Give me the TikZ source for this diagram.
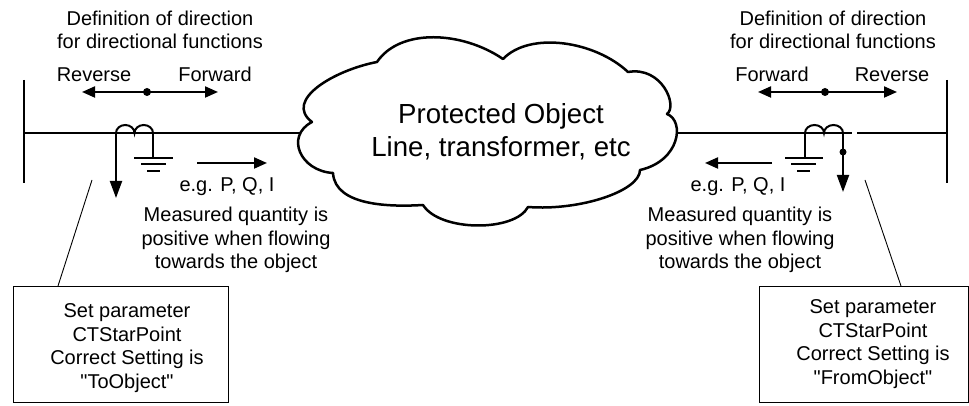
\documentclass[tikz,border=0pt]{standalone}
\usepackage{fontspec}
\setmainfont{Liberation Sans}[Ligatures=TeXOff]
\usetikzlibrary{arrows.meta}
\begin{document}
\begin{tikzpicture}[x=1pt,y=1pt,
  wire/.style={line width=2pt},
  busbar/.style={line width=2.5pt},
  leader/.style={line width=0.9pt},
  txt/.style={font=\fontsize{20}{23.5}\selectfont, inner sep=0pt, align=center},
  bigtxt/.style={font=\fontsize{27.6}{33}\selectfont, inner sep=0pt, align=center},
  flowarr/.style={wire,-{Triangle[length=13pt,width=11pt]}},
  dirarr/.style={wire,{Triangle[length=13pt,width=11pt]}-{Triangle[length=13pt,width=11pt]}},
  leadarr/.style={wire,-{Triangle[length=17pt,width=12pt]}},
  dotc/.style={circle, fill=black, inner sep=0pt, minimum size=8pt},
  smalldot/.style={circle, fill=black, inner sep=0pt, minimum size=7pt},
  setbox/.style={draw, line width=1pt, inner sep=0pt},
  cloudline/.style={line width=2.5pt, fill=white, line join=round}]
\useasboundingbox (0,0) rectangle (969,406);

% bus bars and line
\coordinate (lbt) at (24,326); \coordinate (lbb) at (24,223);
\coordinate (rbt) at (947,326); \coordinate (rbb) at (947,223);
\draw[busbar] (lbt) -- (lbb);
\draw[busbar] (rbt) -- (rbb);
\coordinate (lbj) at (24,273); \coordinate (lcl) at (305,273);
\coordinate (rcl) at (665,273); \coordinate (rg1) at (852,273);
\coordinate (rg2) at (857,273); \coordinate (rbj) at (947,273);
\draw[wire] (lbj) -- (lcl);
\draw[wire] (rcl) -- (rg1);
\draw[wire] (rg2) -- (rbj);

% cloud
\draw[cloudline] (312,284)
  .. controls (283,306) and (335,336) .. (377,344)
  .. controls (400,378) and (462,375) .. (503,347)
  .. controls (530,375) and (595,365) .. (628,334)
  .. controls (662,340) and (678,300) .. (667,292)
  .. controls (685,285) and (680,245) .. (640,236)
  .. controls (640,215) and (580,195) .. (528,199)
  .. controls (515,174) and (440,174) .. (423,201)
  .. controls (390,199) and (335,200) .. (333,233)
  .. controls (300,235) and (285,270) .. (312,284) -- cycle;
\node[bigtxt] (obj) at (501,274) {Protected Object\\Line, transformer, etc};

% left CT
\draw[wire] (116,273) arc[start angle=180,end angle=0,x radius=9.25,y radius=8]
                      arc[start angle=180,end angle=0,x radius=9.25,y radius=8];
\coordinate (lct1) at (116,273); \coordinate (ltip) at (116,208);
\draw[leadarr] (lct1) -- (ltip);
\coordinate (lct2) at (153,273); \coordinate (lgnd) at (153,248);
\draw[wire] (lct2) -- (lgnd);
\draw[wire] (134,248) -- (173,248);
\draw[wire] (141,242) -- (166,242);
\draw[wire] (147,235) -- (160,235);

% right CT
\draw[wire] (805,273) arc[start angle=180,end angle=0,x radius=9.5,y radius=8]
                      arc[start angle=180,end angle=0,x radius=9.5,y radius=8];
\coordinate (rct1) at (805,273); \coordinate (rgnd) at (805,248);
\draw[wire] (rct1) -- (rgnd);
\draw[wire] (785,248) -- (823,248);
\draw[wire] (791,242) -- (816,242);
\draw[wire] (797,235) -- (810,235);
\coordinate (rct2) at (843,273); \coordinate (rtip) at (843,214);
\draw[leadarr] (rct2) -- (rtip);
\node[smalldot] (rdot) at (843,254) {};

% direction definitions
\node[txt] (ltitle) at (160,376) {Definition of direction\\for directional functions};
\node[txt] (rtitle) at (833,376) {Definition of direction\\for directional functions};
\node[txt, anchor=base] (lrev) at (94,324) {Reverse};
\node[txt, anchor=base] (lfwd) at (215,324) {Forward};
\node[txt, anchor=base] (rfwd) at (772,324) {Forward};
\node[txt, anchor=base] (rrev) at (892,324) {Reverse};
\coordinate (lda) at (82,314); \coordinate (ldb) at (218,314);
\coordinate (rda) at (758,314); \coordinate (rdb) at (897,314);
\draw[dirarr] (lda) -- (ldb);
\draw[dirarr] (rda) -- (rdb);
\node[dotc] (ldot) at (147,314) {};
\node[dotc] (rdot2) at (825,314) {};

% measured quantity
\coordinate (lfa) at (197,243); \coordinate (lfb) at (267,243);
\coordinate (rfa) at (772,243); \coordinate (rfb) at (705,243);
\draw[flowarr] (lfa) -- (lfb);
\draw[flowarr] (rfa) -- (rfb);
\node[txt, anchor=base] (leg) at (227,214) {e.g. P, Q, I};
\node[txt, anchor=base] (reg) at (738,214) {e.g. P, Q, I};
\node[txt] (lmeas) at (236,166) {Measured quantity is\\positive when flowing\\towards the object};
\node[txt] (rmeas) at (740,166) {Measured quantity is\\positive when flowing\\towards the object};

% setting boxes
\node[setbox, minimum width=215pt, minimum height=116pt, anchor=south west] (lbox) at (13,3) {};
\node[txt] (ltxt) at (127,58) {Set parameter\\CTStarPoint\\Correct Setting is\\"ToObject"};
\node[setbox, minimum width=209pt, minimum height=116pt, anchor=south west] (rbox) at (759,3) {};
\node[txt] (rtxt) at (873,62) {Set parameter\\CTStarPoint\\Correct Setting is\\"FromObject"};
\coordinate (lpt) at (92,226);
\coordinate (rpt) at (865,226);
\draw[leader] ([xshift=45pt]lbox.north west) -- (lpt);
\draw[leader] ([xshift=-68pt]rbox.north east) -- (rpt);
\end{tikzpicture}
\end{document}
